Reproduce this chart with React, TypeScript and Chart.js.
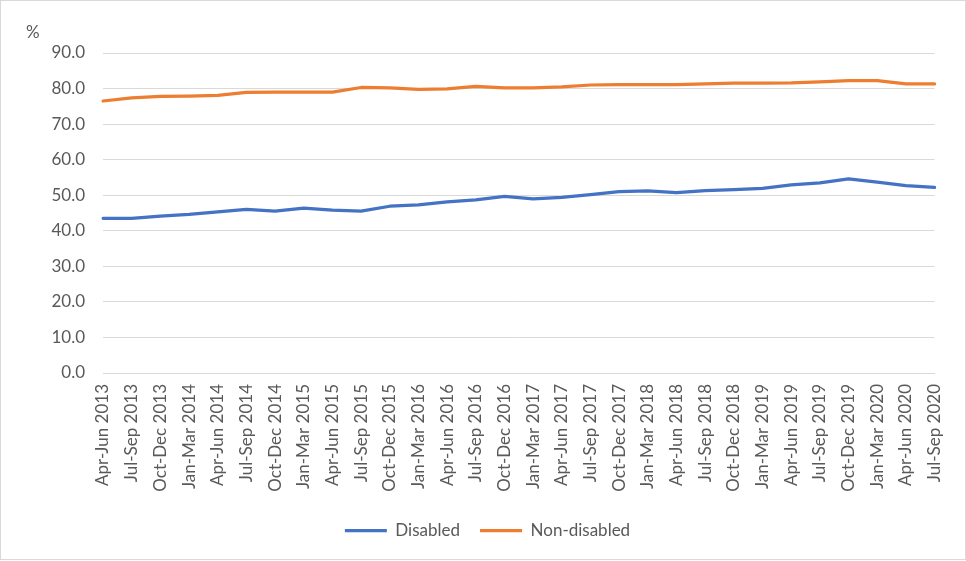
import React, { useEffect, useRef } from "react";
import { Chart, registerables } from "chart.js";

Chart.register(...registerables);

const categories = [
  "Apr-Jun 2013", "Jul-Sep 2013", "Oct-Dec 2013",
  "Jan-Mar 2014", "Apr-Jun 2014", "Jul-Sep 2014", "Oct-Dec 2014",
  "Jan-Mar 2015", "Apr-Jun 2015", "Jul-Sep 2015", "Oct-Dec 2015",
  "Jan-Mar 2016", "Apr-Jun 2016", "Jul-Sep 2016", "Oct-Dec 2016",
  "Jan-Mar 2017", "Apr-Jun 2017", "Jul-Sep 2017", "Oct-Dec 2017",
  "Jan-Mar 2018", "Apr-Jun 2018", "Jul-Sep 2018", "Oct-Dec 2018",
  "Jan-Mar 2019", "Apr-Jun 2019", "Jul-Sep 2019", "Oct-Dec 2019",
  "Jan-Mar 2020", "Apr-Jun 2020", "Jul-Sep 2020",
];

const disabled = [
  43.5, 43.5, 44.1, 44.6, 45.3, 46.0, 45.5, 46.4, 45.8, 45.5,
  46.9, 47.3, 48.1, 48.7, 49.7, 49.0, 49.4, 50.2, 51.0, 51.2,
  50.7, 51.3, 51.6, 51.9, 52.9, 53.5, 54.6, 53.7, 52.7, 52.2,
];

const nonDisabled = [
  76.5, 77.4, 77.8, 77.9, 78.1, 78.9, 79.0, 79.0, 79.0, 80.3,
  80.2, 79.8, 79.9, 80.6, 80.2, 80.2, 80.5, 81.0, 81.1, 81.1,
  81.1, 81.3, 81.5, 81.5, 81.6, 81.9, 82.2, 82.2, 81.3, 81.3,
];

const seriesNames = ["Disabled", "Non-disabled"];
const yTitle = "%";

const FONT = "Lato";
const TEXT = "#595959";
const GRID = "#d9d9d9";

export default function App() {
  const ref = useRef<HTMLCanvasElement | null>(null);

  useEffect(() => {
    if (!ref.current) return;
    const unitPlugin = {
      id: "unitLabel",
      afterLayout(chart: any) {
        if (chart.legend) {
          chart.legend.left = 0;
          chart.legend.right = 975;
        }
      },
      afterDraw(chart: any) {
        const ctx = chart.ctx;
        ctx.save();
        ctx.font = `17px ${FONT}`;
        ctx.fillStyle = TEXT;
        ctx.textAlign = "left";
        ctx.textBaseline = "middle";
        ctx.fillText(yTitle, chart.chartArea.left - 77, chart.chartArea.top - 20);
        ctx.restore();
      },
    };
    const chart = new Chart(ref.current, {
      type: "line",
      data: {
        labels: categories,
        datasets: [
          {
            label: seriesNames[0],
            data: disabled,
            borderColor: "#4472C4",
            backgroundColor: "#4472C4",
            borderWidth: 3.25,
            pointRadius: 0,
            pointHoverRadius: 0,
            tension: 0,
            borderCapStyle: "round",
            borderJoinStyle: "round",
          },
          {
            label: seriesNames[1],
            data: nonDisabled,
            borderColor: "#ED7D31",
            backgroundColor: "#ED7D31",
            borderWidth: 3.25,
            pointRadius: 0,
            pointHoverRadius: 0,
            tension: 0,
            borderCapStyle: "round",
            borderJoinStyle: "round",
          },
        ],
      },
      options: {
        responsive: false,
        animation: false,
        devicePixelRatio: 1,
        layout: { padding: { left: 0, right: 23, top: 53, bottom: 12 } },
        plugins: {
          tooltip: { enabled: false },
          legend: {
            position: "bottom",
            labels: {
              usePointStyle: true,
              pointStyle: "line",
              pointStyleWidth: 42,
              padding: 20,
              color: TEXT,
              font: { family: FONT, size: 17 },
            },
          },
        },
        scales: {
          x: {
            grid: { display: false, drawTicks: false },
            border: { display: true, color: GRID, width: 1 },
            ticks: {
              color: TEXT,
              font: { family: FONT, size: 17 },
              minRotation: 90,
              maxRotation: 90,
              autoSkip: false,
              padding: 11,
            },
            afterFit(scale: any) {
              scale.height = 129;
            },
          },
          y: {
            min: 0,
            max: 90,
            grid: { color: GRID, lineWidth: 1, drawTicks: false },
            border: { display: false },
            ticks: {
              stepSize: 10,
              color: TEXT,
              font: { family: FONT, size: 17 },
              padding: 18,
              callback: (v: any) => Number(v).toFixed(1),
            },
            afterFit(scale: any) {
              scale.width = 103;
            },
          },
        },
      },
      plugins: [unitPlugin],
    });
    return () => chart.destroy();
  }, []);

  return (
    <div style={{ position: "absolute", left: 0, top: 0, width: 966, height: 561, background: "#fff" }}>
      <canvas ref={ref} width={966} height={561} style={{ position: "absolute", left: 0, top: 0 }} />
      <div
        style={{
          position: "absolute",
          left: 0,
          top: 0,
          width: 966,
          height: 560,
          boxSizing: "border-box",
          border: `1px solid ${GRID}`,
          pointerEvents: "none",
        }}
      />
    </div>
  );
}
